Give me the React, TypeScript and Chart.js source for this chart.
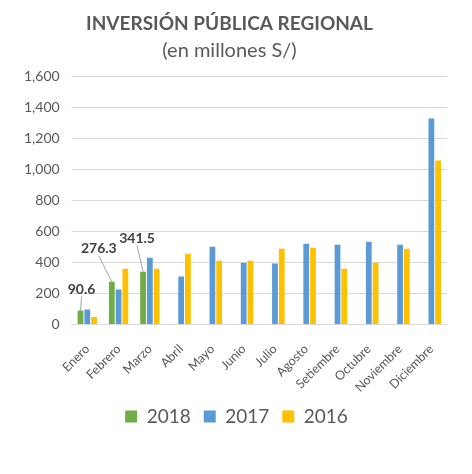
import { useEffect, useRef } from 'react';
import { Chart, registerables, Plugin } from 'chart.js';

Chart.register(...registerables);

const months = [
  'Enero', 'Febrero', 'Marzo', 'Abril', 'Mayo', 'Junio',
  'Julio', 'Agosto', 'Setiembre', 'Octubre', 'Noviembre', 'Diciembre',
];
const serie2018 = [90.6, 276.3, 341.5, null, null, null, null, null, null, null, null, null];
const serie2017 = [98, 227, 432, 310, 503, 400, 394, 522, 516, 535, 516, 1330];
const serie2016 = [49, 361, 361, 458, 413, 413, 490, 496, 361, 400, 490, 1059];

// where the 2018 labels sit, relative to the top of their bar
const labelOffsets = [
  { dx: 1, dy: -21 },
  { dx: -13, dy: -33 },
  { dx: -6, dy: -33 },
];

const FONT = 'Lato, "Open Sans", sans-serif';
const GREY = '#595959';

const leaderLabels: Plugin<'bar'> = {
  id: 'leaderLabels',
  afterDatasetsDraw(chart) {
    const ctx = chart.ctx;
    const meta = chart.getDatasetMeta(0);
    ctx.save();
    ctx.font = `bold 14px ${FONT}`;
    ctx.fillStyle = '#404040';
    ctx.textAlign = 'center';
    ctx.textBaseline = 'middle';
    labelOffsets.forEach((off, i) => {
      const bar = meta.data[i] as any;
      const v = serie2018[i];
      if (!bar || v == null) return;
      const lx = bar.x + off.dx;
      const ly = bar.y + off.dy;
      ctx.strokeStyle = '#8c8c8c';
      ctx.lineWidth = 0.8;
      ctx.beginPath();
      ctx.moveTo(lx, ly + 7);
      ctx.lineTo(bar.x, bar.y);
      ctx.stroke();
      ctx.fillText(v.toFixed(1), lx, ly);
    });
    ctx.restore();
  },
};

// nudge the legend a little to the right, as in the original
const legendShift: Plugin<'bar'> = {
  id: 'legendShift',
  afterLayout(chart) {
    const lg = chart.legend as any;
    if (!lg) return;
    lg.left += 7;
    lg.right += 7;
  },
};

function InversionChart() {
  const ref = useRef<HTMLCanvasElement | null>(null);

  useEffect(() => {
    if (!ref.current) return;
    const chart = new Chart(ref.current, {
      type: 'bar',
      data: {
        labels: months,
        datasets: [
          { label: '2018', data: serie2018, backgroundColor: '#70AD47' },
          { label: '2017', data: serie2017, backgroundColor: '#5B9BD5' },
          { label: '2016', data: serie2016, backgroundColor: '#FFC000' },
        ],
      },
      options: {
        responsive: false,
        animation: false,
        barPercentage: 0.85,
        categoryPercentage: 0.65,
        layout: { padding: { left: 12, right: 25, top: 8, bottom: 38 } },
        plugins: {
          title: {
            display: true,
            text: 'INVERSIÓN PÚBLICA REGIONAL',
            color: GREY,
            font: { family: FONT, size: 19, weight: 'bold' },
            padding: { top: 4, bottom: 4 },
          },
          subtitle: {
            display: true,
            text: '(en millones S/)',
            color: GREY,
            font: { family: FONT, size: 20 },
            padding: { bottom: 14 },
          },
          legend: {
            position: 'bottom',
            labels: {
              color: GREY,
              font: { family: FONT, size: 19 },
              boxWidth: 12,
              boxHeight: 12,
              padding: 13,
            },
          },
          tooltip: { enabled: false },
        },
        scales: {
          x: {
            grid: { display: false },
            border: { display: true, color: '#D9D9D9' },
            ticks: {
              color: GREY,
              font: { family: FONT, size: 12.5 },
              padding: 9,
              maxRotation: 45,
              minRotation: 45,
              autoSkip: false,
            },
            afterFit: (s) => {
              s.height -= 10;
            },
          },
          y: {
            min: 0,
            max: 1600,
            grid: { color: '#D9D9D9', tickLength: 0 },
            border: { display: false },
            ticks: {
              stepSize: 200,
              padding: 12,
              color: GREY,
              font: { family: FONT, size: 14 },
              callback: (v) => Number(v).toLocaleString('en-US'),
            },
          },
        },
      },
      plugins: [leaderLabels, legendShift],
    });
    return () => chart.destroy();
  }, []);

  return <canvas ref={ref} width={472} height={474} />;
}

export default function App() {
  return (
    <div style={{ position: 'fixed', left: 0, top: 0, width: 472, height: 474, background: '#fff' }}>
      <InversionChart />
    </div>
  );
}
